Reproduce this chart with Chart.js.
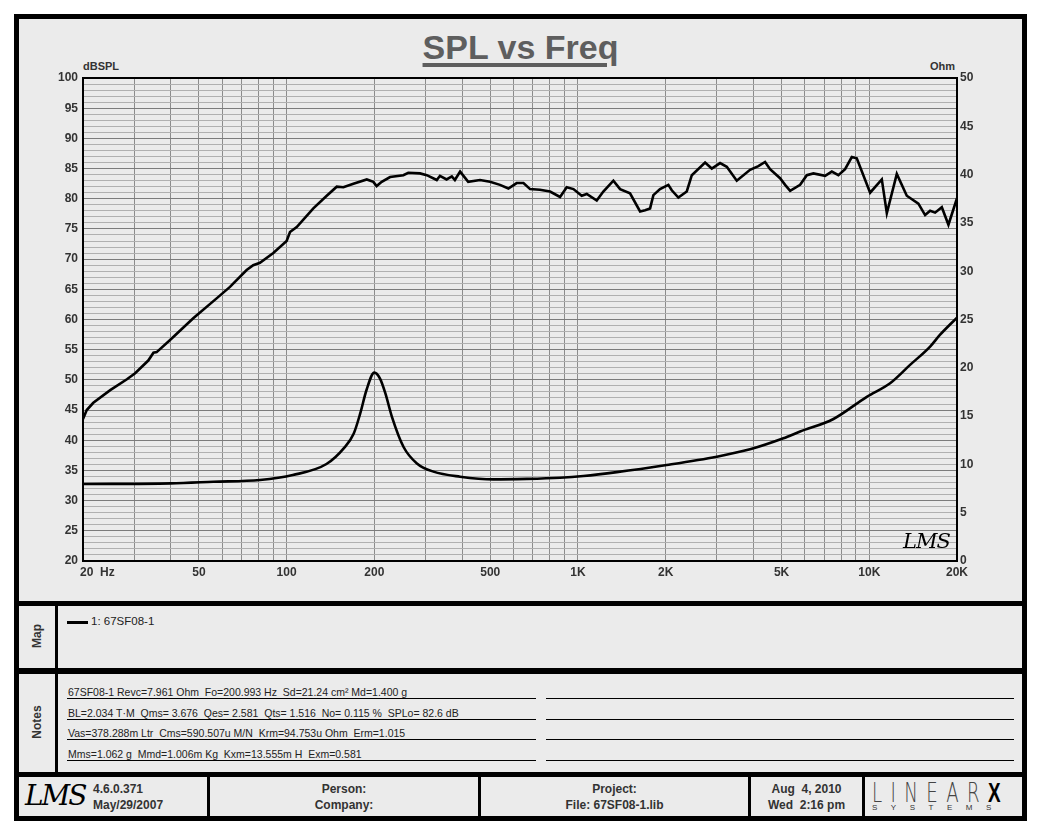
<!DOCTYPE html>
<html>
<head>
<meta charset="utf-8">
<script src="https://cdn.jsdelivr.net/npm/chart.js@4.4.1/dist/chart.umd.min.js"></script>
<style>
  body { margin: 0; background: #fff; font-family: "Liberation Sans", Arial, sans-serif; }
  #frame { position: absolute; left: 14px; top: 14px; width: 1003px; height: 797px; border: 5px solid #000; background: #ebebeb; }
  .abs { position: absolute; }
  .band { position: absolute; background: #000; }
  #title { left: 0; width: 1003px; top: 9px; text-align: center; font: bold 34px "Liberation Sans", Arial, sans-serif; color: #5e5e5e; }
  #title span { text-decoration: underline; text-decoration-thickness: 4px; text-underline-offset: 4px; }
  .axlab { font: bold 11px "Liberation Sans", Arial, sans-serif; color: #333; }
  .side { font: bold 12px "Liberation Sans", Arial, sans-serif; color: #333; transform: rotate(-90deg); transform-origin: center; width: 60px; text-align: center; }
  .note { font: 10.5px "Liberation Sans", Arial, sans-serif; color: #222; white-space: pre; }
  .rule { position: absolute; height: 1px; background: #000; }
  .foot { font: bold 12px "Liberation Sans Narrow", "Liberation Sans", Arial, sans-serif; color: #333; line-height: 16px; }
  .script { font-family: "DejaVu Serif", serif; font-style: italic; color: #000; }
</style>
</head>
<body>
<div id="frame">
  <div id="title" class="abs"><span>SPL vs Freq</span></div>
  <div class="abs axlab" style="left:64px;top:41px;">dBSPL</div>
  <div class="abs axlab" style="left:911px;top:41px;">Ohm</div>
  <canvas id="chart" class="abs" style="left:0;top:0;" width="1003" height="582"></canvas>
  <div class="abs script" style="left:884px;top:510px;font-size:21px;letter-spacing:-1px;">LMS</div>

  <!-- separators -->
  <div class="band" style="left:0;top:582px;width:1003px;height:5px;"></div>
  <div class="band" style="left:0;top:649px;width:1003px;height:6px;"></div>
  <div class="band" style="left:0;top:753px;width:1003px;height:5px;"></div>
  <div class="band" style="left:36px;top:587px;width:3px;height:166px;"></div>

  <!-- map -->
  <div class="abs side" style="left:-12px;top:610px;">Map</div>
  <div class="abs" style="left:48px;top:602px;width:21px;height:3px;background:#000;"></div>
  <div class="abs" style="left:72px;top:596px;font-size:11.5px;color:#222;">1: 67SF08-1</div>

  <!-- notes -->
  <div class="abs side" style="left:-12px;top:696px;">Notes</div>
  <div id="notes"></div>

  <!-- footer -->
  <div class="band" style="left:188px;top:758px;width:3px;height:39px;"></div>
  <div class="band" style="left:459px;top:758px;width:3px;height:39px;"></div>
  <div class="band" style="left:729px;top:758px;width:3px;height:39px;"></div>
  <div class="band" style="left:843px;top:758px;width:3px;height:39px;"></div>
  <div class="abs script" style="left:6px;top:760px;font-size:28px;letter-spacing:-2px;">LMS</div>
  <div class="abs foot" style="left:74px;top:762px;">4.6.0.371<br>May/29/2007</div>
  <div class="abs foot" style="left:191px;width:268px;top:762px;text-align:center;">Person:<br>Company:</div>
  <div class="abs foot" style="left:462px;width:267px;top:762px;text-align:center;">Project:<br>File: 67SF08-1.lib</div>
  <div class="abs foot" style="left:732px;width:111px;top:762px;text-align:center;">Aug &nbsp;4, 2010<br>Wed &nbsp;2:16 pm</div>
  <div class="abs" style="left:853px;top:759px;font:300 26px 'DejaVu Sans', sans-serif;transform:scaleX(0.7);transform-origin:left;letter-spacing:12px;color:#444;white-space:nowrap;">LINEAR<b style="font-family:'Liberation Sans',sans-serif;color:#000;font-weight:900;font-size:27px;letter-spacing:0;">X</b></div>
  <div class="abs" style="left:853px;top:784px;font:8px 'Liberation Sans', sans-serif;letter-spacing:13.5px;color:#333;">SYSTEMS</div>
</div>

<script>
// Measured SPL response (Hz, dB)
const splFreq = [20, 20.6, 21.7, 24.8, 28.3, 30.2, 33.5, 34.9, 35.8, 39.8, 47.8, 57.5, 63.9, 72.9, 76.8, 81, 90, 100, 102.7, 108.3,
  123.5, 137.3, 148.6, 156.6, 169.5, 188.4, 198.4, 203.7, 212, 226.5, 251.5, 261.6, 287, 302.7, 327.6, 336, 354, 369, 378, 394,
  420, 461, 499, 540, 577, 616, 650, 685, 740, 802, 868, 915, 965, 1030, 1072, 1160, 1222, 1323, 1395, 1509, 1634, 1700, 1768,
  1815, 1913, 2043, 2099, 2211, 2363, 2459, 2731, 2879, 3075, 3242, 3508, 3897, 4161, 4388, 4565, 4940, 5141, 5349, 5788, 6104,
  6430, 7053, 7436, 7833, 8258, 8708, 9057, 10066, 11039, 11486, 12428, 13448, 14741, 15545, 16173, 16824, 17739, 18690, 20000];
const splDb = [43.5, 45.0, 46.2, 48.3, 50.1, 51.1, 53.2, 54.5, 54.6, 56.6, 60.2, 63.5, 65.4, 68.2, 69.0, 69.4, 71.0, 73.0, 74.5, 75.3,
  78.4, 80.5, 82.0, 81.9, 82.5, 83.2, 82.8, 82.1, 82.8, 83.6, 83.9, 84.3, 84.2, 83.9, 83.1, 83.8, 83.2, 83.7, 83.1, 84.5,
  82.8, 83.1, 82.8, 82.3, 81.7, 82.6, 82.6, 81.6, 81.5, 81.2, 80.3, 81.9, 81.6, 80.5, 80.8, 79.7, 81.2, 83.0, 81.6, 80.9, 77.9, 78.1, 78.4,
  80.6, 81.6, 82.3, 81.4, 80.2, 81.2, 83.9, 86.0, 85.0, 85.9, 85.3, 83.0, 84.8, 85.4, 86.1, 84.9, 83.4, 82.3, 81.3, 82.3, 83.9,
  84.2, 83.8, 84.5, 83.9, 84.9, 86.9, 86.7, 81.0, 83.2, 77.6, 84.1, 80.5, 79.2, 77.3, 78.0, 77.7, 78.6, 75.7, 80.1];

// Impedance (Hz, Ohm)
const impFreq = [20, 40, 56, 81, 105, 137, 157, 170, 179, 188, 200, 209, 218, 230, 252, 280, 319, 394, 512, 667, 868,
  1044, 1359, 2017, 2996, 3897, 5071, 5788, 7532, 9803, 11788, 13802, 16173, 17470, 20000];
const impOhm = [7.97, 8.04, 8.2, 8.39, 8.9, 10.04, 11.66, 13.2, 15.3, 17.7, 19.5, 18.9, 17.4, 14.9, 11.8, 10.1, 9.25, 8.73, 8.45, 8.5, 8.62,
  8.8, 9.2, 9.94, 10.8, 11.56, 12.7, 13.4, 14.7, 17.0, 18.4, 20.3, 22.2, 23.4, 25.2];

// Axes
const gridFreqs = [20, 30, 40, 50, 60, 70, 80, 90, 100, 200, 300, 400, 500, 600, 700, 800, 900,
  1000, 2000, 3000, 4000, 5000, 6000, 7000, 8000, 9000, 10000, 20000];
const xLabelFreqs = [20, 50, 100, 200, 500, 1000, 2000, 5000, 10000, 20000];
const xLabels = ['20  Hz', '50', '100', '200', '500', '1K', '2K', '5K', '10K', '20K'];
const dbTicks = [];
for (let v = 20; v <= 100; v++) dbTicks.push(v);

// Notes rows
const noteLines = [
  '67SF08-1 Revc=7.961 Ohm  Fo=200.993 Hz  Sd=21.24 cm\u00b2 Md=1.400 g',
  'BL=2.034 T\u00b7M  Qms= 3.676  Qes= 2.581  Qts= 1.516  No= 0.115 %  SPLo= 82.6 dB',
  'Vas=378.288m Ltr  Cms=590.507u M/N  Krm=94.753u Ohm  Erm=1.015',
  'Mms=1.062 g  Mmd=1.006m Kg  Kxm=13.555m H  Exm=0.581'
];

const notesEl = document.getElementById('notes');
noteLines.forEach((t, i) => {
  const top = 667 + i * 20.7;
  notesEl.insertAdjacentHTML('beforeend',
    `<div class="abs note" style="left:49px;top:${top}px;">${t}</div>` +
    `<div class="rule" style="left:48px;width:469px;top:${top + 12}px;"></div>` +
    `<div class="rule" style="left:527px;width:468px;top:${top + 12}px;"></div>`);
});

const font = { family: '"Liberation Sans", Arial, sans-serif', size: 12, weight: 'bold' };

// frame + x labels drawn from the x scale
const framePlugin = {
  id: 'frame',
  afterDraw(chart) {
    const { ctx, chartArea: a, scales } = chart;
    ctx.save();
    ctx.strokeStyle = '#000';
    ctx.lineWidth = 2;
    ctx.strokeRect(a.left, a.top, a.right - a.left, a.bottom - a.top);
    ctx.fillStyle = '#333';
    ctx.font = 'bold 12px "Liberation Sans", Arial, sans-serif';
    ctx.textBaseline = 'middle';
    xLabelFreqs.forEach((f, i) => {
      const x = scales.x.getPixelForValue(f);
      ctx.textAlign = i === 0 ? 'left' : 'center';
      ctx.fillText(xLabels[i], i === 0 ? x - 3 : x, a.bottom + 12);
    });
    ctx.restore();
  }
};

new Chart(document.getElementById('chart'), {
  type: 'line',
  data: {
    datasets: [{
      data: splFreq.map((f, i) => ({ x: f, y: splDb[i] })),
      yAxisID: 'y',
      borderColor: '#000',
      borderWidth: 2.6,
      pointRadius: 0,
      tension: 0
    }, {
      data: impFreq.map((f, i) => ({ x: f, y: impOhm[i] })),
      yAxisID: 'y2',
      borderColor: '#000',
      borderWidth: 2.6,
      pointRadius: 0,
      cubicInterpolationMode: 'monotone'
    }]
  },
  options: {
    responsive: false,
    animation: false,
    layout: { padding: { top: 59, left: 0, right: 0, bottom: 0 } },
    plugins: { legend: { display: false }, tooltip: { enabled: false } },
    scales: {
      x: {
        type: 'logarithmic',
        min: 20,
        max: 20000,
        afterBuildTicks: s => { s.ticks = gridFreqs.map(v => ({ value: v })); },
        afterFit: s => { s.height = 40; },
        ticks: { display: false },
        grid: { color: '#8c8c8c', lineWidth: 1, drawTicks: false },
        border: { display: false }
      },
      y: {
        position: 'left',
        min: 20,
        max: 100,
        afterBuildTicks: s => { s.ticks = dbTicks.map(v => ({ value: v })); },
        afterFit: s => { s.width = 64; },
        ticks: {
          autoSkip: false,
          padding: 5,
          color: '#333',
          font: font,
          callback: v => (v % 5 === 0 ? v : '')
        },
        grid: {
          drawTicks: false,
          color: c => (c.tick && c.tick.value % 5 === 0 ? '#7c7c7c' : '#b0b0b0'),
          lineWidth: 1
        },
        border: { display: false }
      },
      y2: {
        position: 'right',
        min: 0,
        max: 50,
        afterFit: s => { s.width = 65; },
        ticks: { stepSize: 5, autoSkip: false, padding: 3, color: '#333', font: font },
        grid: { display: false, drawTicks: false },
        border: { display: false }
      }
    }
  },
  plugins: [framePlugin]
});
</script>
</body>
</html>
